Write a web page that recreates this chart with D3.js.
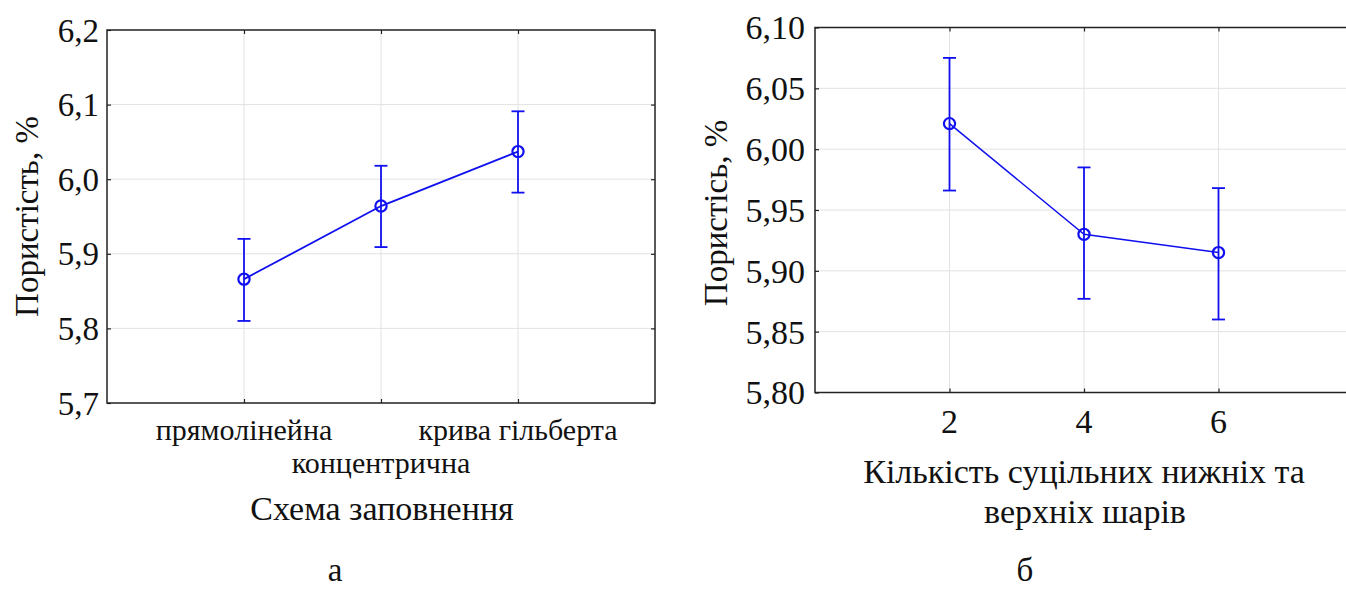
<!DOCTYPE html>
<html>
<head>
<meta charset="utf-8">
<script src="https://cdn.jsdelivr.net/npm/d3@7"></script>
<style>
  html, body { margin: 0; padding: 0; background: #fff; }
  svg { display: block; }
</style>
</head>
<body>
<svg id="chart" width="1346" height="590" font-family="'Liberation Serif', 'DejaVu Serif', serif"></svg>
<script>
// Panel (a): porosity by infill pattern
const schemes = ["прямолінейна", "концентрична", "крива гільберта"];
const schemeMean = [5.866, 5.964, 6.037];
const schemeLow  = [5.810, 5.909, 5.982];
const schemeHigh = [5.920, 6.018, 6.091];
const schemeTicks = [5.7, 5.8, 5.9, 6.0, 6.1, 6.2];

// Panel (b): porosity by number of solid bottom/top layers
const layers = [2, 4, 6];
const layerMean = [6.021, 5.930, 5.915];
const layerLow  = [5.966, 5.877, 5.860];
const layerHigh = [6.075, 5.985, 5.968];
const layerTicks = [5.80, 5.85, 5.90, 5.95, 6.00, 6.05, 6.10];
const layerXTicks = [2, 4, 6];

const svg = d3.select("#chart");
const blue = "#1010f0";
const ink = "#111";
const fmt1 = d => d.toFixed(1).replace(".", ",");
const fmt2 = d => d.toFixed(2).replace(".", ",");

function label(g, x, y, size, str, anchor = "middle") {
  return g.append("text").attr("x", x).attr("y", y)
    .attr("font-family", "Liberation Serif, DejaVu Serif, serif")
    .attr("fill", ink).attr("font-size", size)
    .attr("text-anchor", anchor).text(str);
}

function frame(g, x0, x1, y0, y1) {
  g.append("rect")
    .attr("x", x0).attr("y", y0)
    .attr("width", x1 - x0).attr("height", y1 - y0)
    .attr("fill", "none").attr("stroke", "#222").attr("stroke-width", 1.5);
}

function series(g, xs, y, mean, low, high, lw) {
  const line = d3.line().x((d, i) => xs[i]).y(d => y(d));
  g.append("path").datum(mean)
    .attr("d", line).attr("fill", "none")
    .attr("stroke", blue).attr("stroke-width", lw);
  const bars = g.selectAll(".eb").data(mean).enter().append("g");
  bars.append("line")
    .attr("x1", (d, i) => xs[i]).attr("x2", (d, i) => xs[i])
    .attr("y1", (d, i) => y(low[i])).attr("y2", (d, i) => y(high[i]))
    .attr("stroke", blue).attr("stroke-width", 1.8);
  [low, high].forEach(arr => {
    bars.append("line")
      .attr("x1", (d, i) => xs[i] - 6.5).attr("x2", (d, i) => xs[i] + 6.5)
      .attr("y1", (d, i) => y(arr[i])).attr("y2", (d, i) => y(arr[i]))
      .attr("stroke", blue).attr("stroke-width", 1.8);
  });
  g.selectAll(".pt").data(mean).enter().append("circle")
    .attr("cx", (d, i) => xs[i]).attr("cy", d => y(d))
    .attr("r", 5.6).attr("fill", "none")
    .attr("stroke", blue).attr("stroke-width", 2.2);
}

function tickAxes(g, axes) {
  axes.forEach(([ax, tr]) => {
    const a = g.append("g").attr("transform", tr).call(ax);
    a.select(".domain").remove();
    a.selectAll("line").attr("stroke", "#222").attr("stroke-width", 1.2);
  });
}

// ---------- Panel (a) ----------
{
  const L = 107, R = 655, T = 30, B = 403;
  const g = svg.append("g");
  const x = d3.scalePoint().domain(schemes).range([L, R]).padding(1);
  const y = d3.scaleLinear().domain([5.7, 6.2]).range([B, T]);

  g.selectAll(".gy").data(schemeTicks.slice(1, -1)).enter().append("line")
    .attr("x1", L).attr("x2", R).attr("y1", d => y(d)).attr("y2", d => y(d))
    .attr("stroke", "#e2e2e2").attr("stroke-width", 1);
  g.selectAll(".gx").data(schemes).enter().append("line")
    .attr("y1", T).attr("y2", B).attr("x1", d => x(d)).attr("x2", d => x(d))
    .attr("stroke", "#e2e2e2").attr("stroke-width", 1);

  tickAxes(g, [
    [d3.axisLeft(y).tickValues(schemeTicks).tickSize(-4).tickFormat(""), `translate(${L},0)`],
    [d3.axisRight(y).tickValues(schemeTicks).tickSize(-4).tickFormat(""), `translate(${R},0)`],
    [d3.axisBottom(x).tickSize(-4).tickFormat(""), `translate(0,${B})`],
    [d3.axisTop(x).tickSize(-4).tickFormat(""), `translate(0,${T})`]
  ]);

  schemeTicks.forEach(t => label(g, L - 8, y(t), 33, fmt1(t), "end").attr("dy", "0.35em"));
  const catY = [440, 473, 440];
  schemes.forEach((s, i) => label(g, x(s), catY[i], 30, s));

  frame(g, L, R, T, B);
  series(g, schemes.map(s => x(s)), y, schemeMean, schemeLow, schemeHigh, 1.8);

  label(g, 0, 0, 33, "Пористість, %")
    .attr("transform", `translate(38,${(T + B) / 2}) rotate(-90)`);
  label(g, 382, 520, 34, "Схема заповнення");
  label(g, 335, 581, 33, "а");
}

// ---------- Panel (b) ----------
{
  const L = 815, R = 1353, T = 27.5, B = 392.5;
  const g = svg.append("g");
  const x = d3.scaleLinear().domain([0, 8]).range([L, R]);
  const y = d3.scaleLinear().domain([5.8, 6.1]).range([B, T]);

  g.selectAll(".gy").data(layerTicks.slice(1, -1)).enter().append("line")
    .attr("x1", L).attr("x2", R).attr("y1", d => y(d)).attr("y2", d => y(d))
    .attr("stroke", "#e2e2e2").attr("stroke-width", 1);
  g.selectAll(".gx").data(layerXTicks).enter().append("line")
    .attr("y1", T).attr("y2", B).attr("x1", d => x(d)).attr("x2", d => x(d))
    .attr("stroke", "#e2e2e2").attr("stroke-width", 1);

  tickAxes(g, [
    [d3.axisLeft(y).tickValues(layerTicks).tickSize(-4).tickFormat(""), `translate(${L},0)`],
    [d3.axisBottom(x).tickValues(layerXTicks).tickSize(-4).tickFormat(""), `translate(0,${B})`],
    [d3.axisTop(x).tickValues(layerXTicks).tickSize(-4).tickFormat(""), `translate(0,${T})`]
  ]);

  layerTicks.forEach(t => label(g, L - 10, y(t), 34, fmt2(t), "end").attr("dy", "0.35em"));
  layerXTicks.forEach(t => label(g, x(t), 433, 34, String(t)));

  frame(g, L, R, T, B);
  series(g, layers.map(v => x(v)), y, layerMean, layerLow, layerHigh, 1.5);

  label(g, 0, 0, 33, "Пористісь, %")
    .attr("transform", `translate(727,${(T + B) / 2 + 3}) rotate(-90)`);
  label(g, 1084, 483, 34, "Кількість суцільних нижніх та");
  label(g, 1085, 523, 34, "верхніх шарів");
  label(g, 1025, 581, 33, "б");
}
</script>
</body>
</html>
